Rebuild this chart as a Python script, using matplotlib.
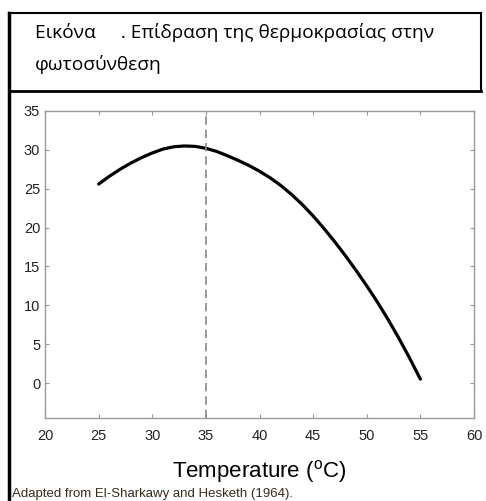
import matplotlib.pyplot as plt
from matplotlib.lines import Line2D
from matplotlib.ticker import MultipleLocator

plt.rcParams['font.family'] = ['Liberation Sans', 'DejaVu Sans']
plt.rcParams['mathtext.fontset'] = 'custom'
plt.rcParams['mathtext.rm'] = 'Liberation Sans'

# values, one per degree
temp = list(range(25, 56))
photo = [25.6, 26.6, 27.5, 28.3, 29.0, 29.6, 30.1, 30.4, 30.5, 30.45,
         30.2, 29.8, 29.25, 28.65, 28.0, 27.25, 26.4, 25.4, 24.25, 22.95,
         21.5, 19.9, 18.2, 16.4, 14.5, 12.5, 10.4, 8.15, 5.75, 3.2, 0.5]
optimum = 35
title_lines = ['Εικόνα     . Επίδραση της θερμοκρασίας στην', 'φωτοσύνθεση']
source = 'Adapted from El-Sharkawy and Hesketh (1964).'

W, H = 486, 501
fig = plt.figure(figsize=(W / 100, H / 100), dpi=100)

def fx(px):
    return px / W

def fy(py):
    return 1 - py / H

# caption box
fig.add_artist(Line2D([fx(9), fx(481)], [fy(13), fy(13)], color='black', lw=1.5))
fig.add_artist(Line2D([fx(481), fx(481)], [fy(13), fy(91)], color='black', lw=1.5))
fig.add_artist(Line2D([fx(9), fx(481)], [fy(91), fy(91)], color='black', lw=2))
fig.add_artist(Line2D([fx(9), fx(9)], [fy(13), 0], color='black', lw=2.5))
fig.text(fx(35), fy(38), title_lines[0], fontsize=13.8, family=['Open Sans', 'DejaVu Sans'], va='baseline')
fig.text(fx(35), fy(70), title_lines[1], fontsize=13.8, family=['Open Sans', 'DejaVu Sans'], va='baseline')

ax = fig.add_axes([fx(45), fy(418), fx(474) - fx(45), fy(111) - fy(418)])
ax.plot(temp, photo, color='black', lw=2.3, solid_capstyle='round', solid_joinstyle='round')
ax.axvline(optimum, color='#888888', ls=(0, (5, 3)), lw=1.2)

ax.set_xlim(20, 60)
ax.set_ylim(-4.5, 35)
ax.xaxis.set_major_locator(MultipleLocator(5))
ax.xaxis.set_minor_locator(MultipleLocator(2.5))
ax.yaxis.set_major_locator(MultipleLocator(5))
ax.yaxis.set_minor_locator(MultipleLocator(2.5))
ax.tick_params(which='both', direction='in', top=True, right=True, color='#999999',
               length=3, width=0.8, labelsize=10.5, labelcolor='#222222')
ax.tick_params(which='minor', length=0)
ax.tick_params(axis='x', pad=8)
for s in ax.spines.values():
    s.set_color('#999999')
    s.set_linewidth(1)

ax.set_xlabel('Temperature ($^{\\mathrm{o}}$C)', fontsize=16, labelpad=11)

fig.text(fx(12), fy(488), source, fontsize=9.5, color='#3a2a1a', va='top')

fig.savefig('out.png', dpi=100)
